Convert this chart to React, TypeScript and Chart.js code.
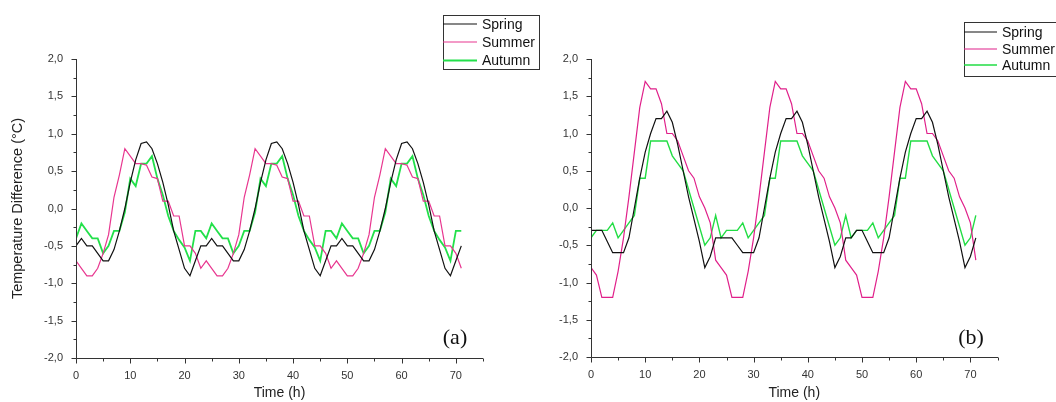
import React, { useEffect, useRef } from 'react';
import { Chart, registerables } from 'chart.js';

Chart.register(...registerables);

const FONT = '"Liberation Sans", Arial, sans-serif';

const hours = [
  0, 1, 2, 3, 4, 5, 6, 7, 8, 9, 10, 11, 12, 13, 14, 15, 16, 17, 18, 19, 20, 21, 22, 23,
  24, 25, 26, 27, 28, 29, 30, 31, 32, 33, 34, 35, 36, 37, 38, 39, 40, 41, 42, 43, 44, 45, 46, 47,
  48, 49, 50, 51, 52, 53, 54, 55, 56, 57, 58, 59, 60, 61, 62, 63, 64, 65, 66, 67, 68, 69, 70, 71,
];

const xTickValues = [0, 10, 20, 30, 40, 50, 60, 70];
const xMarkValues = [0, 5, 10, 15, 20, 25, 30, 35, 40, 45, 50, 55, 60, 65, 70, 75];
const yTickValues = [-2, -1.5, -1, -0.5, 0, 0.5, 1, 1.5, 2];
const yMarkValues = [-2, -1.75, -1.5, -1.25, -1, -0.75, -0.5, -0.25, 0, 0.25, 0.5, 0.75, 1, 1.25, 1.5, 1.75, 2];

const seriesNames = ['Spring', 'Summer', 'Autumn'];

// Panel (a)
const springA = [
  -0.5, -0.4, -0.5, -0.5, -0.6, -0.7, -0.7, -0.55, -0.3, 0.0, 0.35, 0.65, 0.87, 0.89, 0.8, 0.6, 0.35, 0.05, -0.3, -0.55, -0.8, -0.9, -0.7, -0.5,
  -0.5, -0.4, -0.5, -0.5, -0.6, -0.7, -0.7, -0.55, -0.3, 0.0, 0.35, 0.65, 0.87, 0.89, 0.8, 0.6, 0.35, 0.05, -0.3, -0.55, -0.8, -0.9, -0.7, -0.5,
  -0.5, -0.4, -0.5, -0.5, -0.6, -0.7, -0.7, -0.55, -0.3, 0.0, 0.35, 0.65, 0.87, 0.89, 0.8, 0.6, 0.35, 0.05, -0.3, -0.55, -0.8, -0.9, -0.7, -0.5,
];
const summerA = [
  -0.7, -0.8, -0.9, -0.9, -0.8, -0.6, -0.35, 0.15, 0.45, 0.8, 0.7, 0.6, 0.6, 0.58, 0.42, 0.4, 0.1, 0.1, -0.1, -0.1, -0.5, -0.5, -0.6, -0.8,
  -0.7, -0.8, -0.9, -0.9, -0.8, -0.6, -0.35, 0.15, 0.45, 0.8, 0.7, 0.6, 0.6, 0.58, 0.42, 0.4, 0.1, 0.1, -0.1, -0.1, -0.5, -0.5, -0.6, -0.8,
  -0.7, -0.8, -0.9, -0.9, -0.8, -0.6, -0.35, 0.15, 0.45, 0.8, 0.7, 0.6, 0.6, 0.58, 0.42, 0.4, 0.1, 0.1, -0.1, -0.1, -0.5, -0.5, -0.6, -0.8,
];
const autumnA = [
  -0.4, -0.2, -0.3, -0.4, -0.4, -0.6, -0.5, -0.3, -0.3, -0.05, 0.4, 0.3, 0.6, 0.6, 0.7, 0.4, 0.18, -0.1, -0.3, -0.42, -0.52, -0.7, -0.3, -0.3,
  -0.4, -0.2, -0.3, -0.4, -0.4, -0.6, -0.5, -0.3, -0.3, -0.05, 0.4, 0.3, 0.6, 0.6, 0.7, 0.4, 0.18, -0.1, -0.3, -0.42, -0.52, -0.7, -0.3, -0.3,
  -0.4, -0.2, -0.3, -0.4, -0.4, -0.6, -0.5, -0.3, -0.3, -0.05, 0.4, 0.3, 0.6, 0.6, 0.7, 0.4, 0.18, -0.1, -0.3, -0.42, -0.52, -0.7, -0.3, -0.3,
];

// Panel (b)
const springB = [
  -0.3, -0.3, -0.3, -0.45, -0.6, -0.6, -0.6, -0.4, 0.0, 0.4, 0.75, 1.0, 1.2, 1.2, 1.3, 1.15, 0.85, 0.5, 0.15, -0.15, -0.45, -0.8, -0.65, -0.4,
  -0.4, -0.4, -0.4, -0.5, -0.6, -0.6, -0.6, -0.4, 0.0, 0.4, 0.75, 1.0, 1.2, 1.2, 1.3, 1.15, 0.85, 0.5, 0.15, -0.15, -0.45, -0.8, -0.65, -0.4,
  -0.4, -0.3, -0.3, -0.45, -0.6, -0.6, -0.6, -0.4, 0.0, 0.4, 0.75, 1.0, 1.2, 1.2, 1.3, 1.15, 0.85, 0.5, 0.15, -0.15, -0.45, -0.8, -0.65, -0.4,
];
const summerB = [
  -0.8, -0.9, -1.2, -1.2, -1.2, -0.85, -0.4, 0.15, 0.75, 1.35, 1.7, 1.6, 1.6, 1.4, 1.0, 1.0, 0.9, 0.7, 0.5, 0.4, 0.15, 0.0, -0.2, -0.7,
  -0.8, -0.9, -1.2, -1.2, -1.2, -0.85, -0.4, 0.15, 0.75, 1.35, 1.7, 1.6, 1.6, 1.4, 1.0, 1.0, 0.9, 0.7, 0.5, 0.4, 0.15, 0.0, -0.2, -0.7,
  -0.8, -0.9, -1.2, -1.2, -1.2, -0.85, -0.4, 0.15, 0.75, 1.35, 1.7, 1.6, 1.6, 1.4, 1.0, 1.0, 0.9, 0.7, 0.5, 0.4, 0.15, 0.0, -0.2, -0.7,
];
const autumnB = [
  -0.4, -0.3, -0.3, -0.3, -0.2, -0.4, -0.3, -0.2, -0.1, 0.4, 0.4, 0.9, 0.9, 0.9, 0.9, 0.7, 0.6, 0.5, 0.25, 0.0, -0.25, -0.5, -0.4, -0.1,
  -0.4, -0.3, -0.3, -0.3, -0.2, -0.4, -0.3, -0.2, -0.1, 0.4, 0.4, 0.9, 0.9, 0.9, 0.9, 0.7, 0.6, 0.5, 0.25, 0.0, -0.25, -0.5, -0.4, -0.1,
  -0.4, -0.3, -0.3, -0.3, -0.2, -0.4, -0.3, -0.2, -0.1, 0.4, 0.4, 0.9, 0.9, 0.9, 0.9, 0.7, 0.6, 0.5, 0.25, 0.0, -0.25, -0.5, -0.4, -0.1,
];

type PanelSpec = {
  values: number[][];
  colors: string[];
  widths: number[];
  canvasWidth: number;
  yAxisWidth: number;
  xAxisHeight: number;
  padTop: number;
  padRight: number;
  yTitle: string | null;
  legend: { x: number; y: number; w: number; h: number; rows: number[]; lineEnd: number; textX: number };
  label: { text: string; x: number; y: number };
};

const fmt = (v: number) => v.toFixed(1).replace('.', ',');

function decorPlugin(spec: PanelSpec) {
  return {
    id: 'decor',
    afterDraw(chart: any) {
      const { ctx, chartArea: a, scales } = chart;
      const xs = scales.x;
      const ys = scales.y;
      ctx.save();
      ctx.strokeStyle = '#333';
      ctx.lineWidth = 1;
      const L = Math.round(a.left) + 0.5;
      const B = Math.round(a.bottom) + 0.5;
      ctx.beginPath();
      ctx.moveTo(L, Math.round(a.top));
      ctx.lineTo(L, B);
      ctx.lineTo(Math.round(a.right), B);
      xMarkValues.forEach((v) => {
        const px = Math.round(xs.getPixelForValue(v)) + 0.5;
        const len = v % 10 === 0 ? 5 : 3;
        ctx.moveTo(px, B);
        ctx.lineTo(px, B + len);
      });
      yMarkValues.forEach((v) => {
        const py = Math.round(ys.getPixelForValue(v)) + 0.5;
        const len = Math.abs((v * 2) % 1) < 1e-9 ? 5 : 3;
        ctx.moveTo(L, py);
        ctx.lineTo(L - len, py);
      });
      ctx.stroke();

      // legend
      const lg = spec.legend;
      ctx.fillStyle = '#fff';
      ctx.fillRect(lg.x, lg.y, lg.w, lg.h);
      ctx.strokeStyle = '#333';
      ctx.strokeRect(lg.x + 0.5, lg.y + 0.5, lg.w, lg.h);
      ctx.font = `14px ${FONT}`;
      ctx.textBaseline = 'middle';
      ctx.textAlign = 'left';
      seriesNames.forEach((name, i) => {
        ctx.strokeStyle = spec.colors[i];
        ctx.lineWidth = spec.widths[i];
        ctx.beginPath();
        ctx.moveTo(lg.x, lg.rows[i]);
        ctx.lineTo(lg.lineEnd, lg.rows[i]);
        ctx.stroke();
        ctx.fillStyle = '#111';
        ctx.fillText(name, lg.textX, lg.rows[i] + 1);
      });

      // panel label
      ctx.font = `22px "Liberation Serif", "Times New Roman", serif`;
      ctx.textAlign = 'center';
      ctx.fillStyle = '#111';
      ctx.fillText(spec.label.text, spec.label.x, spec.label.y);
      ctx.restore();
    },
  };
}

function buildConfig(spec: PanelSpec): any {
  return {
    type: 'line',
    data: {
      datasets: seriesNames.map((name, i) => ({
        label: name,
        data: hours.map((h, k) => ({ x: h, y: spec.values[i][k] })),
        borderColor: spec.colors[i],
        borderWidth: spec.widths[i],
        pointRadius: 0,
        tension: 0,
        fill: false,
      })),
    },
    options: {
      animation: false,
      responsive: false,
      maintainAspectRatio: false,
      devicePixelRatio: 1,
      layout: { padding: { left: 0, top: spec.padTop, right: spec.padRight, bottom: 0 } },
      plugins: { legend: { display: false }, tooltip: { enabled: false } },
      scales: {
        x: {
          type: 'linear',
          min: 0,
          max: 75,
          afterFit: (s: any) => {
            s.height = spec.xAxisHeight;
          },
          afterBuildTicks: (s: any) => {
            s.ticks = xTickValues.map((v) => ({ value: v }));
          },
          grid: { display: false, drawTicks: false },
          border: { display: false },
          ticks: {
            padding: 11,
            color: '#333',
            font: { family: FONT, size: 11 },
            maxRotation: 0,
            autoSkip: false,
            callback: (v: number) => String(v),
          },
          title: {
            display: true,
            text: 'Time (h)',
            color: '#222',
            font: { family: FONT, size: 14 },
            padding: { top: 0, bottom: 0 },
          },
        },
        y: {
          type: 'linear',
          min: -2,
          max: 2,
          afterFit: (s: any) => {
            s.width = spec.yAxisWidth;
          },
          afterBuildTicks: (s: any) => {
            s.ticks = yTickValues.map((v) => ({ value: v }));
          },
          grid: { display: false, drawTicks: false },
          border: { display: false },
          ticks: {
            padding: 13,
            color: '#333',
            font: { family: FONT, size: 11 },
            autoSkip: false,
            callback: (v: number) => fmt(v),
          },
          title: {
            display: !!spec.yTitle,
            text: spec.yTitle || '',
            color: '#222',
            font: { family: FONT, size: 14.5 },
            padding: { top: 9, bottom: 0 },
          },
        },
      },
    },
    plugins: [decorPlugin(spec)],
  };
}

const panelA: PanelSpec = {
  values: [springA, summerA, autumnA],
  colors: ['#111111', '#E8368F', '#22E04A'],
  widths: [1.2, 1.2, 1.8],
  canvasWidth: 560,
  yAxisWidth: 76,
  xAxisHeight: 44,
  padTop: 59,
  padRight: 77,
  yTitle: 'Temperature Difference (°C)',
  legend: { x: 443, y: 15, w: 96, h: 54, rows: [24, 42, 60.5], lineEnd: 477, textX: 482 },
  label: { text: '(a)', x: 455, y: 338 },
};

const panelB: PanelSpec = {
  values: [springB, summerB, autumnB],
  colors: ['#111111', '#E0208A', '#22DD44'],
  widths: [1.2, 1.2, 1.4],
  canvasWidth: 528,
  yAxisWidth: 63,
  xAxisHeight: 45,
  padTop: 59,
  padRight: 58.5,
  yTitle: null,
  legend: { x: 436, y: 22, w: 100, h: 54, rows: [32, 49, 65], lineEnd: 469, textX: 474 },
  label: { text: '(b)', x: 443, y: 338 },
};

function Panel({ spec, left }: { spec: PanelSpec; left: number }) {
  const ref = useRef<HTMLCanvasElement | null>(null);
  useEffect(() => {
    if (!ref.current) return;
    const chart = new Chart(ref.current, buildConfig(spec));
    return () => chart.destroy();
  }, [spec]);
  return (
    <canvas
      ref={ref}
      width={spec.canvasWidth}
      height={402}
      style={{ position: 'absolute', left, top: 0, width: spec.canvasWidth, height: 402 }}
    />
  );
}

export default function App() {
  return (
    <div
      style={{
        position: 'absolute',
        left: 0,
        top: 0,
        width: 1056,
        height: 402,
        background: '#ffffff',
        overflow: 'hidden',
      }}
    >
      <Panel spec={panelA} left={0} />
      <Panel spec={panelB} left={528} />
    </div>
  );
}
